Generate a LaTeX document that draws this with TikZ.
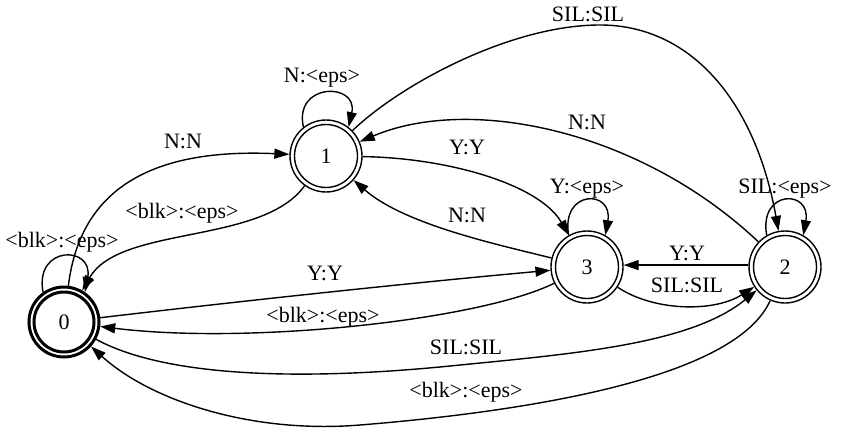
\documentclass[tikz,border=0pt]{standalone}
\usepackage{fontspec}
\setmainfont{Liberation Serif}
\usetikzlibrary{arrows.meta}
\begin{document}
\begin{tikzpicture}[x=1pt,y=-1pt,
  font=\fontsize{22}{26}\selectfont,
  line width=1.4pt,
  >={Triangle[length=15pt,width=10pt]},
  state/.style={circle,draw,line width=1.4pt,minimum size=72pt,inner sep=0pt,
    path picture={\draw[line width=1.4pt] (path picture bounding box.center) circle (31.5pt);}},
  final/.style={circle,draw,line width=3pt,minimum size=70pt,inner sep=0pt,
    path picture={\draw[line width=3pt] (path picture bounding box.center) circle (30pt);}},
  lbl/.style={inner sep=0pt}]
\useasboundingbox (0,0) rectangle (842,433);

% states
\node[final] (n0) at (64,322) {0};
\node[state] (n1) at (326,156) {1};
\node[state] (n3) at (587,267) {3};
\node[state] (n2) at (785,267) {2};

% self loops
\draw[->] (n0.125) .. controls +(-9,-47) and +(9,-47) .. (n0.55);
\draw[->] (n1.128) .. controls +(-10,-45) and +(10,-45) .. (n1.52);
\draw[->] (n3.120) .. controls +(-8,-46) and +(8,-46) .. (n3.60);
\draw[->] (n2.120) .. controls +(-8,-46) and +(8,-46) .. (n2.60);

% edges
\draw[->] (n0) .. controls (80,190) and (150,148) .. (n1);
\draw[->] (n1) .. controls (262,245) and (120,225) .. (n0);
\draw[->] (n0) .. controls (250,300) and (420,282) .. (n3);
\draw[->] (n3) .. controls (480,320) and (250,345) .. (n0);
\draw[->] (n0) .. controls (175,382) and (330,378) .. (450,366)
               .. controls (570,354) and (690,345) .. (n2);
\draw[->] (n2) .. controls (735,380) and (520,412) .. (360,425)
               .. controls (250,434) and (150,400) .. (n0);
\draw[->] (n1) .. controls (450,158) and (540,185) .. (n3);
\draw[->] (n3) .. controls (500,245) and (405,225) .. (n1);
\draw[->] (n2) .. controls (640,130) and (470,95) .. (n1);
\draw[->] (n1) .. controls (400,85) and (510,25) .. (600,25)
               .. controls (690,25) and (755,100) .. (n2);
\draw[->] (n3) .. controls (655,312) and (715,312) .. (n2);
\draw[->] (n2.177) -- (n3.3);

% labels
\node[lbl] (l00) at (62,242) {<blk>:<eps>};
\node[lbl] (l11) at (322,78) {N:<eps>};
\node[lbl] (l33) at (587,189) {Y:<eps>};
\node[lbl] (l22) at (785,189) {SIL:<eps>};
\node[lbl] (l01) at (183,141) {N:N};
\node[lbl] (l10) at (182,213) {<blk>:<eps>};
\node[lbl] (l03) at (325,273) {Y:Y};
\node[lbl] (l30) at (323,317) {<blk>:<eps>};
\node[lbl] (l02) at (466,347) {SIL:SIL};
\node[lbl] (l20) at (466,392) {<blk>:<eps>};
\node[lbl] (l13) at (467,147) {Y:Y};
\node[lbl] (l31) at (467,215) {N:N};
\node[lbl] (l21) at (587,122) {N:N};
\node[lbl] (l12) at (588,14) {SIL:SIL};
\node[lbl] (l32) at (687,285) {SIL:SIL};
\node[lbl] (l23) at (687,253) {Y:Y};
\end{tikzpicture}
\end{document}
